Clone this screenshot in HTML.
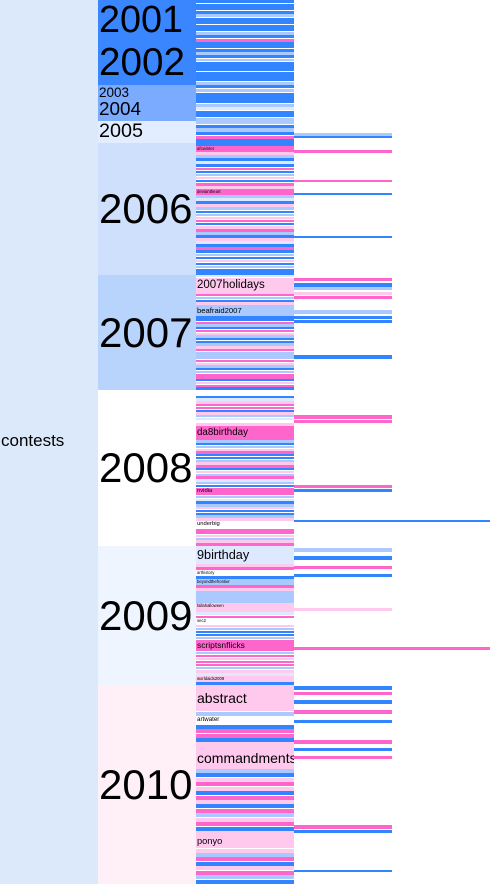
<!DOCTYPE html>
<html><head><meta charset="utf-8">
<style>
html,body{margin:0;padding:0;background:#fff;}
#chart{position:relative;width:490px;height:884px;overflow:hidden;font-family:"Liberation Sans",sans-serif;}
.c{position:absolute;box-sizing:border-box;overflow:hidden;white-space:nowrap;color:#000;line-height:1;}
</style></head><body>
<div id="chart"></div>
<script>
// Level 1: years (values in units proportional to contest counts)
const years = ["2001","2002","2003","2004","2005","2006","2007","2008","2009","2010"];
const yearValues = [42,43,15,21,22,132,115,156,139,199];
const yearColors = ["#3a86ff","#3a86ff","#7aabff","#7aabff","#e2edff","#cfe0fd","#b8d3fc","#ffffff","#eef5ff","#fff0f8"];
// Level 2: contests per year, "code[weight][:label]"
const contests2001 = "B B B B L B B B B L B P";
const contests2002 = "B B B L B L B B B B B B L";
const contests2003 = "B L B B";
const contests2004 = "B L D B B L";
const contests2005 = "L B L B P B";
const contests2006 = "B P2:afcwinter Q L B D B P B L Q B P Q P2:deviantheart L D B Q L B L Q P B Q P L B Q D B P B L B Q B L B B";
const contests2007 = "D Q6:2007holidays P L B Q L4:beafraid2007 B2:bigtop P L B P Q L B B L Q P L2:fotofriday L P Q L B L P P B Q P B";
const contests2008 = "W2:arthistory B D Q P P B Q L D W Q P5:da8birthday L B L Q P B B L Q P B Q L P D L B P3:nvidia L D B L Q B B L Q W3:underbig P P Q L Q P";
const contests2009 = "D6:9birthday Q P W2:arthistory B L2:beyondthefrontier P Q L L L L Q2:fallahalloween Q D P W2:sec2 Q L B B L P4:scriptsnflicks L P Q P P L Q D Q2:worldaids2009 B";
const contests2010 = "Q6:abstract L W2:artwater B P P B Q Q5:commandments L B Q P Q B P Q B P L Q P B Q Q3:ponyo Q L P B Q P L B";
const contestLists = [contests2001,contests2002,contests2003,contests2004,contests2005,contests2006,contests2007,contests2008,contests2009,contests2010];
// Level 3/4 entries
const subStarts = [133,136,150,180,193,236,278,283,287,292,296,310,316,320,355,415,420,485,489,520,548,556,566,574,608,647,686,692,700,710,720,740,748,756,825,830,870];
const subSizes  = [3,2,3,2,2,2,3,4,3,3,3,4,3,3,4,4,3,3,3,2,4,4,3,3,3,3,4,3,4,4,3,4,3,3,4,3,2];
const subCodes  = "LBPPBBPBLQPLBBBPPPBBLBPBQPBPBPBPBPPBB";
const subDepth  = [3,3,3,3,3,3,3,3,3,3,3,3,3,3,3,3,3,3,3,4,3,3,3,3,3,4,3,3,3,3,3,3,3,3,3,3,3];

const colorMap={B:"#3385ff",L:"#a9c9ff",D:"#dde9ff",Q:"#ffc9ee",P:"#ff66cc",W:"#ffffff"};
const H=884, colW=98;
const chart=document.getElementById('chart');
const total=yearValues.reduce((a,b)=>a+b,0);
const yScale=v=>v/total*H;

function cell(x,y,w,h,bg,label,fs,name){
  const d=document.createElement('div');
  d.className='c';
  d.style.left=x+'px';d.style.top=y+'px';d.style.width=w+'px';d.style.height=h+'px';d.style.background=bg;
  if(label){d.textContent=label;d.style.fontSize=fs+'px';d.style.paddingTop=Math.max(0,(h-fs)/2)+'px';d.style.paddingLeft='1px';}
  
  
  chart.appendChild(d);
  return d;
}
const root=cell(0,0,colW,H,"#dce9fb","contests",17,'root-contests');
root.style.paddingTop='432px';
let acc=0;
years.forEach((yr,i)=>{
  const y0=yScale(acc), h=yScale(yearValues[i]);
  const fs=Math.min(h*0.9,42);
  cell(colW,y0,colW,h,yearColors[i],yr,fs,'year-'+yr);
  const toks=contestLists[i].split(' ').map(t=>{
    const m=t.match(/^([A-Z])(\d*)(?::(.*))?$/);
    return {c:m[1],w:m[2]?+m[2]:1,l:m[3]||''};
  });
  const tw=toks.reduce((a,t)=>a+t.w,0);
  let cy=y0;
  toks.forEach((t,j)=>{
    const th=h*t.w/tw;
    const fs2=Math.min(th*0.7,14);
    cell(colW*2,cy,colW,Math.max(th-0.4,0.5),colorMap[t.c],th>=6?t.l:'',fs2,'contest-'+yr+'-'+(t.l||j));
    cy+=th;
  });
  acc+=yearValues[i];
});
subStarts.forEach((s,i)=>{
  const w=subDepth[i]===4?colW*2:colW;
  cell(colW*3,s,w,subSizes[i],colorMap[subCodes[i]],'',0,'sub-entry-'+i);
});
</script>
</body></html>
